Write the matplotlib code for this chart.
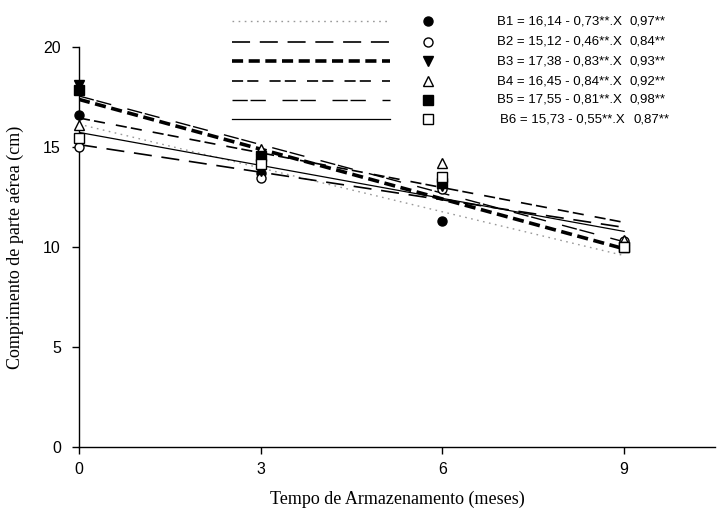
import matplotlib
matplotlib.use("Agg")
import matplotlib.pyplot as plt
from matplotlib.lines import Line2D
import numpy as np

plt.rcParams['lines.scale_dashes'] = False

# ---- data ----
series = ["B1", "B2", "B3", "B4", "B5", "B6"]
months = [0, 3, 6, 9]
obs = {
    "B1": [16.6, 13.7, 11.3, 10.1],
    "B2": [15.0, 13.45, 12.9, 10.3],
    "B3": [18.1, 13.8, 13.05, 10.0],
    "B4": [16.1, 14.9, 14.2, 10.35],
    "B5": [17.85, 14.55, 13.2, 10.0],
    "B6": [15.45, 14.15, 13.5, 10.0],
}
# equations as printed
eq_intercept = ["16,14", "15,12", "17,38", "16,45", "17,55", "15,73"]
eq_slope = ["0,73", "0,46", "0,83", "0,84", "0,81", "0,55"]
eq_r2 = ["0,97", "0,84", "0,93", "0,92", "0,98", "0,87"]
# fitted lines as drawn in the picture
line_intercept = [16.14, 15.12, 17.38, 16.45, 17.55, 15.73]
line_slope = [-0.73, -0.46, -0.83, -0.58, -0.81, -0.55]

xticks = [0, 3, 6, 9]
yticks = [0, 5, 10, 15, 20]

# ---- styles ----
markers = {"B1": dict(marker="o", mfc="black"), "B2": dict(marker="o", mfc="white"),
           "B3": dict(marker="v", mfc="black"), "B4": dict(marker="^", mfc="white"),
           "B5": dict(marker="s", mfc="black"), "B6": dict(marker="s", mfc="white")}
lstyles = {
    "B1": dict(color="#999999", lw=1.0, linestyle=(0, (1.2, 3.2))),
    "B2": dict(color="black", lw=1.2, linestyle=(0, (13, 7))),
    "B3": dict(color="black", lw=2.6, linestyle=(0, (8, 4))),
    "B4": dict(color="black", lw=1.2, linestyle=(0, (8, 3, 8, 8))),
    "B5": dict(color="black", lw=1.0, linestyle=(0, (11, 2, 11, 12))),
    "B6": dict(color="black", lw=0.9, linestyle="-"),
}

W, H = 722, 512
fig = plt.figure(figsize=(W / 100, H / 100), dpi=100)
ax = fig.add_axes([79 / W, 1 - 447 / H, (715 - 79) / W, (447 - 47) / H])

xl = np.array([0, 9])
for i, s in enumerate(series):
    ax.plot(xl, line_intercept[i] + line_slope[i] * xl, **lstyles[s], zorder=2)
for s in series:
    ax.plot(months, obs[s], linestyle="none", mec="black", mew=1.0, ms=6.5,
            zorder=3, clip_on=False, **markers[s])

ax.set_xlim(0, 10.5)
ax.set_ylim(0, 20)
ax.set_xticks(xticks)
ax.set_yticks(yticks)
for sp in ["top", "right"]:
    ax.spines[sp].set_visible(False)
for sp in ["left", "bottom"]:
    ax.spines[sp].set_linewidth(1.0)
ax.tick_params(axis="both", direction="out", length=5, width=1.0,
               labelsize=11.5, pad=8)
ax.tick_params(axis="x", pad=6)
for lab in ax.get_xticklabels() + ax.get_yticklabels():
    lab.set_family("Liberation Sans")

ax.set_xlabel("Tempo de Armazenamento (meses)", family="Liberation Serif",
              fontsize=13, labelpad=10)
ax.set_ylabel("Comprimento de parte aérea (cm)", family="Liberation Serif",
              fontsize=13, labelpad=14)

# ---- custom legend ----
rows_y = [21, 42, 61, 81, 100, 119]
for i, s in enumerate(series):
    yf = 1 - rows_y[i] / H
    fig.add_artist(Line2D([232 / W, 390 / W], [yf, yf], transform=fig.transFigure,
                          **lstyles[s]))
    fig.add_artist(Line2D([428 / W], [yf], transform=fig.transFigure,
                          linestyle="none", mec="black", mew=1.0, ms=6.5,
                          **markers[s]))
    fig.text((497 if i < 5 else 500) / W, yf,
             f"{s} = {eq_intercept[i]} - {eq_slope[i]}**.X",
             family="Liberation Sans", fontsize=9.5, va="center", ha="left")
    fig.text((630 if i < 5 else 633) / W, yf, f"{eq_r2[i]}**",
             family="Liberation Sans", fontsize=9.5, va="center", ha="left")

fig.savefig("out.png", dpi=100)
